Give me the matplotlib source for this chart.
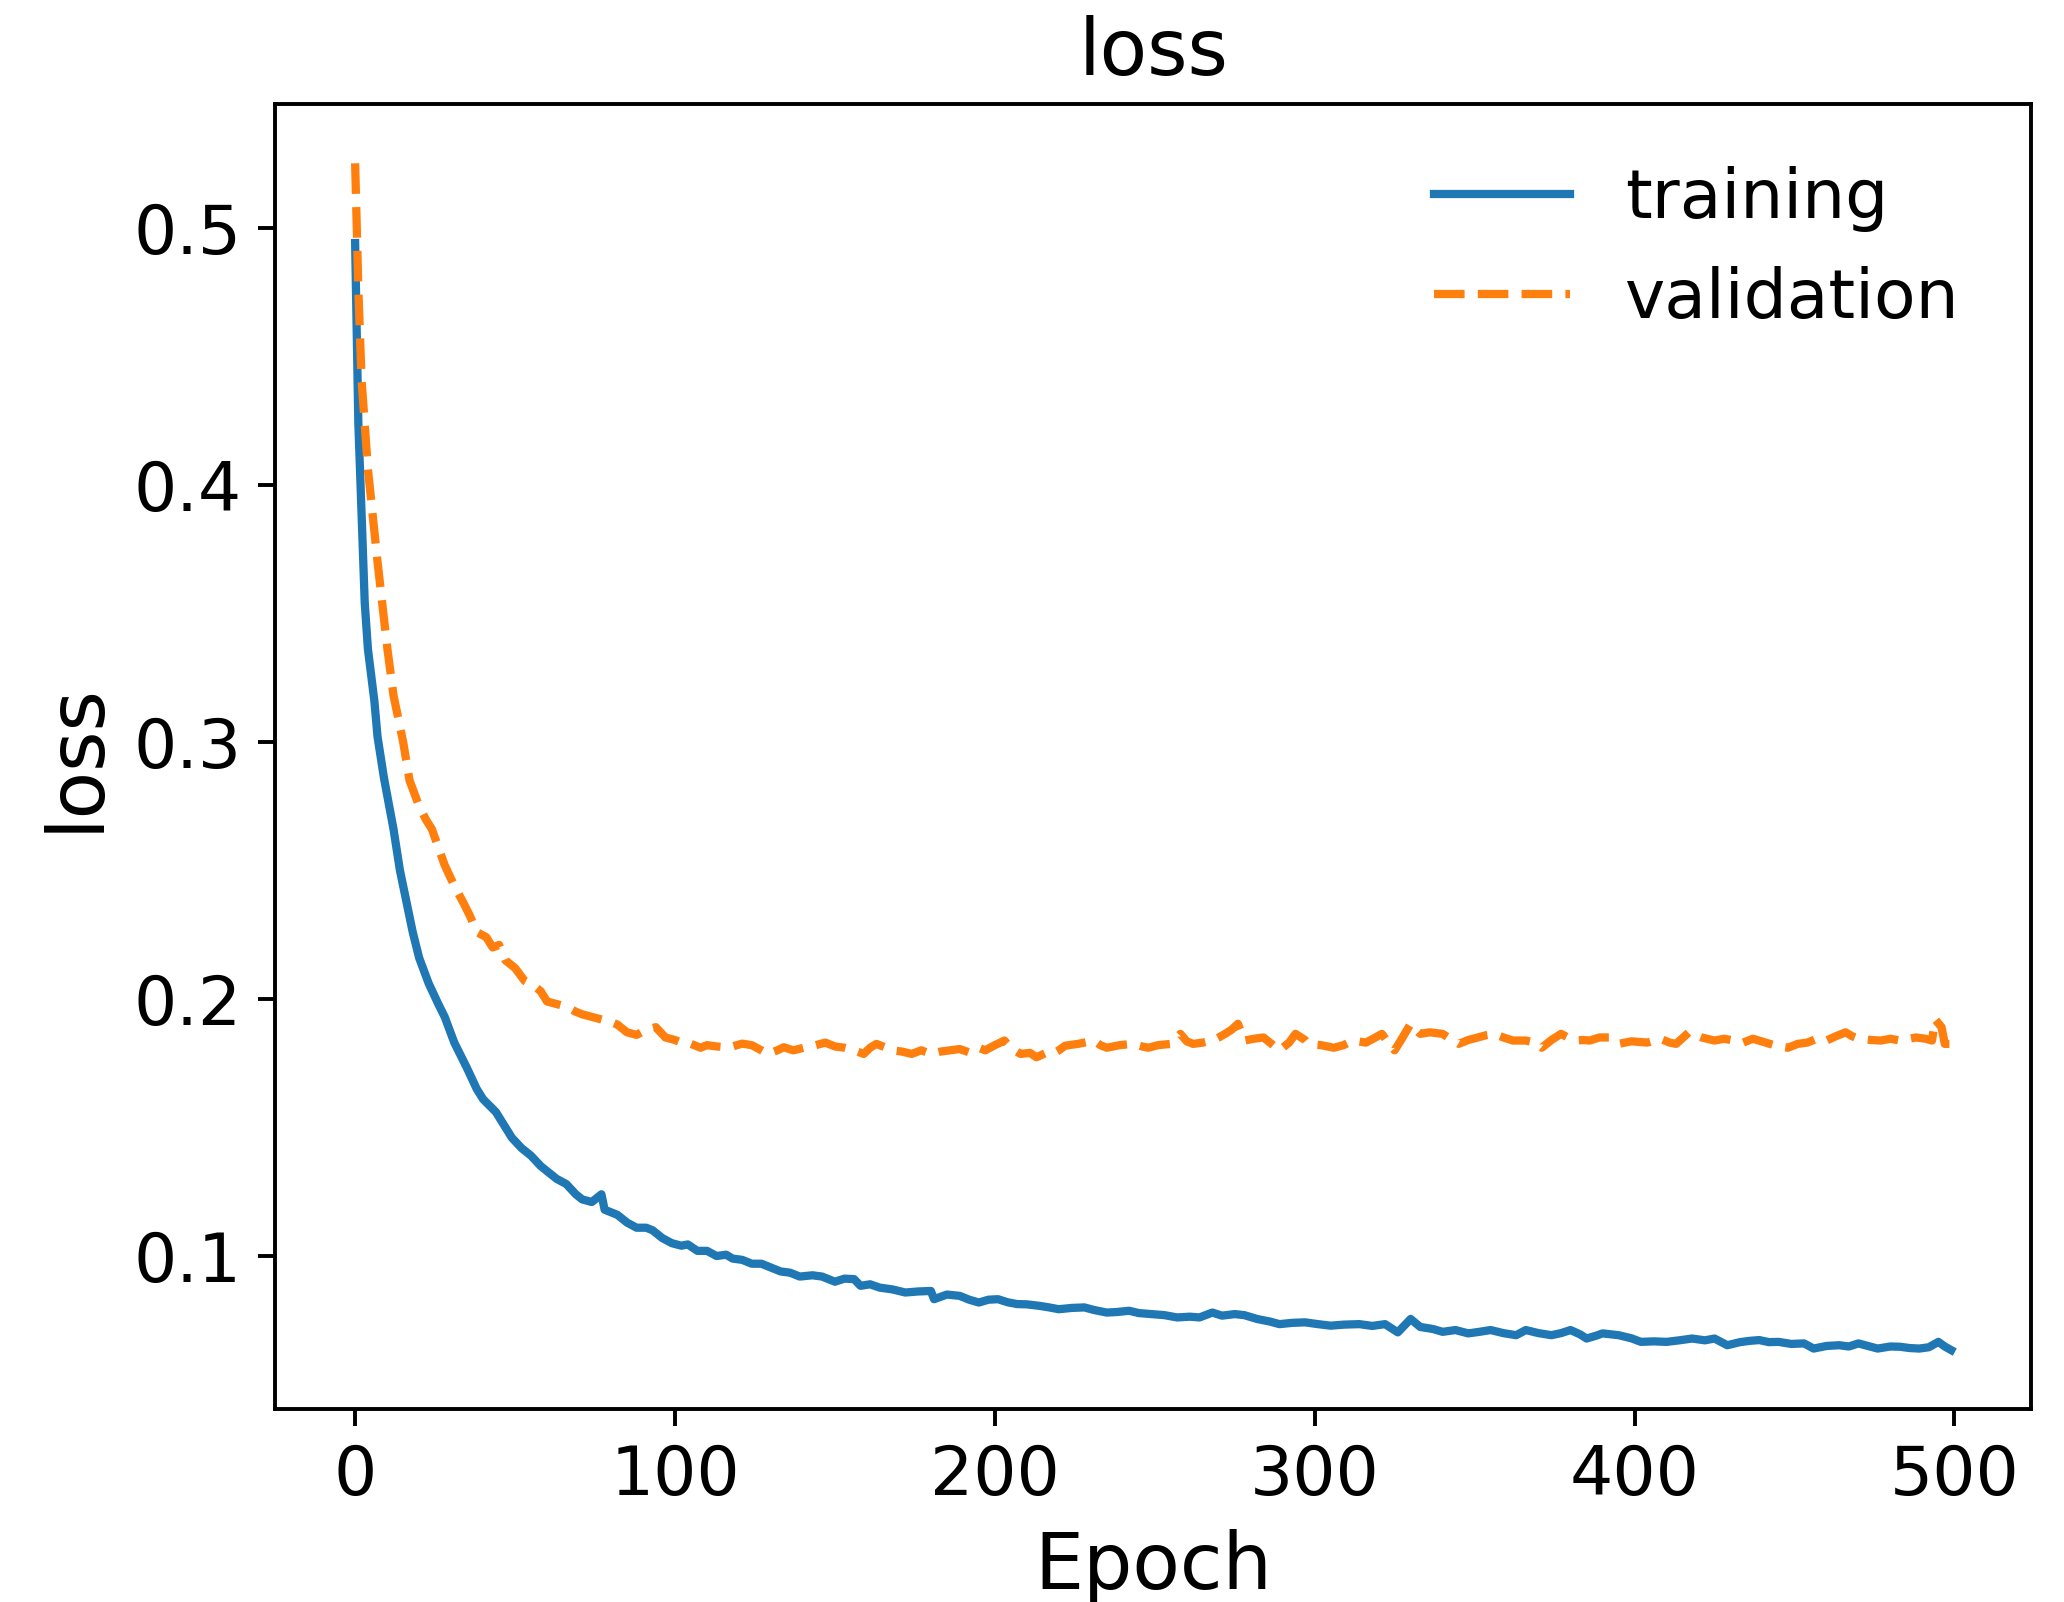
import matplotlib
matplotlib.use('Agg')
import matplotlib.pyplot as plt

# values (epoch, loss)
train_epochs = [0, 1, 2, 3, 4, 6, 7, 9, 12, 14, 16, 18, 20, 23, 26, 28, 31, 35, 38, 40,
                44, 47, 49, 52, 55, 58, 60, 63, 66, 69, 71, 74, 77, 78, 82, 85, 88, 91, 93, 96,
                99, 102, 104, 107, 110, 113, 116, 118, 121, 124, 127, 130, 133, 136, 139, 143, 146, 150, 153, 156,
                158, 161, 164, 168, 172, 176, 180, 181, 185, 189, 192, 195, 198, 201, 204, 207, 210, 214, 217, 220,
                224, 228, 231, 235, 238, 242, 245, 249, 253, 257, 261, 264, 268, 271, 275, 278, 282, 286, 289, 293,
                297, 301, 305, 309, 314, 318, 322, 326, 330, 333, 337, 340, 344, 348, 352, 355, 359, 363, 366, 370,
                374, 377, 380, 383, 385, 388, 390, 393, 395, 399, 402, 406, 410, 414, 418, 422, 425, 429, 433, 436,
                439, 442, 445, 449, 453, 456, 460, 464, 467, 470, 473, 476, 480, 483, 486, 489, 492, 495, 497, 499]
train_loss = [0.494, 0.424, 0.389, 0.354, 0.336, 0.316, 0.302, 0.286, 0.266, 0.250, 0.238, 0.226, 0.216, 0.206, 0.198, 0.193, 0.183, 0.173, 0.165, 0.161,
              0.156, 0.150, 0.146, 0.142, 0.139, 0.135, 0.133, 0.130, 0.128, 0.124, 0.122, 0.121, 0.124, 0.118, 0.116, 0.113, 0.111, 0.111, 0.110, 0.107,
              0.105, 0.104, 0.1045, 0.102, 0.102, 0.100, 0.1005, 0.099, 0.0985, 0.097, 0.097, 0.0955, 0.094, 0.0935, 0.092, 0.0925, 0.092, 0.090, 0.0912, 0.091,
              0.0884, 0.089, 0.0877, 0.087, 0.0858, 0.0862, 0.0864, 0.0832, 0.085, 0.0845, 0.083, 0.0819, 0.083, 0.0832, 0.082, 0.0813, 0.0812, 0.0806, 0.080, 0.0793,
              0.0798, 0.080, 0.0790, 0.078, 0.0782, 0.0787, 0.0778, 0.0774, 0.0770, 0.0761, 0.0764, 0.0761, 0.078, 0.0768, 0.0774, 0.0770, 0.0755, 0.0745, 0.0735, 0.0740,
              0.0742, 0.0735, 0.0729, 0.0733, 0.0735, 0.0728, 0.0735, 0.0703, 0.0755, 0.0724, 0.0716, 0.0705, 0.0712, 0.0699, 0.0706, 0.0712, 0.0700, 0.0692, 0.0712, 0.0700,
              0.0692, 0.0700, 0.0712, 0.0695, 0.0679, 0.0690, 0.0699, 0.0695, 0.0692, 0.0680, 0.0666, 0.0668, 0.0666, 0.0672, 0.0679, 0.0672, 0.0679, 0.0653, 0.0665, 0.0670,
              0.0673, 0.0665, 0.0666, 0.0658, 0.0660, 0.0640, 0.0650, 0.0653, 0.0648, 0.0660, 0.0650, 0.0640, 0.0648, 0.0647, 0.0642, 0.0640, 0.0645, 0.0666, 0.0648, 0.0634]

val_epochs = [0, 1, 2, 4, 7, 10, 12, 15, 17, 20, 22, 24, 26, 28, 31, 34, 36, 38,
              41, 43, 45, 47, 50, 53, 56, 58, 60, 63, 66, 69, 71, 74, 77, 80, 82, 85, 88, 91,
              94, 97, 100, 103, 105, 108, 110, 113, 116, 118, 121, 124, 127, 129, 132, 134, 137, 141, 144, 147,
              150, 153, 156, 159, 161, 163, 166, 168, 171, 174, 177, 180, 183, 186, 189, 192, 195, 197, 200, 203,
              205, 208, 211, 213, 216, 218, 220, 222, 226, 231, 233, 235, 239, 243, 246, 248, 251, 255, 258, 260,
              262, 265, 268, 270, 272, 274, 276, 278, 281, 284, 287, 289, 292, 294, 297, 298, 302, 306, 309, 312,
              316, 319, 321, 323, 325, 327, 330, 333, 336, 340, 343, 345, 348, 351, 354, 356, 359, 362, 366, 369,
              371, 374, 377, 381, 384, 386, 389, 392, 395, 399, 404, 408, 411, 413, 417, 421, 425, 428, 431, 434,
              437, 441, 445, 448, 451, 454, 457, 460, 463, 466, 468, 470, 474, 477, 480, 483, 486, 488, 491, 493,
              494, 496, 497, 499]
val_loss = [0.525, 0.476, 0.441, 0.406, 0.370, 0.337, 0.318, 0.300, 0.285, 0.275, 0.270, 0.266, 0.259, 0.252, 0.244, 0.237, 0.232, 0.226,
            0.224, 0.220, 0.221, 0.215, 0.212, 0.207, 0.205, 0.203, 0.199, 0.198, 0.197, 0.195, 0.194, 0.193, 0.192, 0.191, 0.190, 0.187, 0.186, 0.188,
            0.189, 0.185, 0.184, 0.1825, 0.1825, 0.181, 0.182, 0.1815, 0.1812, 0.1815, 0.1826, 0.182, 0.180, 0.1786, 0.180, 0.1812, 0.180, 0.1812, 0.182, 0.183,
            0.1815, 0.181, 0.180, 0.1786, 0.181, 0.1825, 0.181, 0.180, 0.1795, 0.1786, 0.180, 0.1786, 0.1795, 0.180, 0.1805, 0.1792, 0.181, 0.180, 0.182, 0.1838,
            0.181, 0.1786, 0.179, 0.1773, 0.179, 0.1786, 0.180, 0.1818, 0.1825, 0.1838, 0.182, 0.181, 0.182, 0.1825, 0.1815, 0.181, 0.182, 0.1825, 0.1864, 0.1835,
            0.1825, 0.183, 0.1838, 0.185, 0.1864, 0.188, 0.1903, 0.1838, 0.1845, 0.185, 0.182, 0.180, 0.183, 0.1864, 0.184, 0.1825, 0.182, 0.181, 0.182, 0.1838,
            0.183, 0.185, 0.1864, 0.183, 0.180, 0.184, 0.1903, 0.1864, 0.187, 0.1864, 0.184, 0.1825, 0.184, 0.185, 0.186, 0.1864, 0.185, 0.1838, 0.1838, 0.183,
            0.181, 0.184, 0.1864, 0.1838, 0.184, 0.1838, 0.185, 0.185, 0.1825, 0.1835, 0.183, 0.1845, 0.183, 0.1825, 0.187, 0.185, 0.1838, 0.1845, 0.1838, 0.183,
            0.1845, 0.183, 0.1815, 0.181, 0.1825, 0.183, 0.1845, 0.1838, 0.1855, 0.187, 0.1855, 0.1845, 0.184, 0.1838, 0.1845, 0.1838, 0.1845, 0.185, 0.1845, 0.1838,
            0.192, 0.189, 0.1825, 0.1825]

fig = plt.figure(figsize=(2064 / 350, 1602 / 350), dpi=350)
ax = fig.add_axes([0.1334, 0.1202, 0.8506, 0.8149])

ax.plot(train_epochs, train_loss, '-', color='#1f77b4', lw=1.7, label='training')
ax.plot(val_epochs, val_loss, '--', color='#ff7f0e', lw=1.7, label='validation')

ax.set_title('loss', fontsize=16)
ax.set_xlabel('Epoch', fontsize=16)
ax.set_ylabel('loss', fontsize=16)
ax.set_xticks([0, 100, 200, 300, 400, 500])
ax.set_yticks([0.1, 0.2, 0.3, 0.4, 0.5])
ax.tick_params(labelsize=14)
ax.legend(loc='upper right', bbox_to_anchor=(1.0, 1.007), frameon=False, fontsize=14, borderaxespad=0.65)

fig.savefig('out.png', dpi=350)
